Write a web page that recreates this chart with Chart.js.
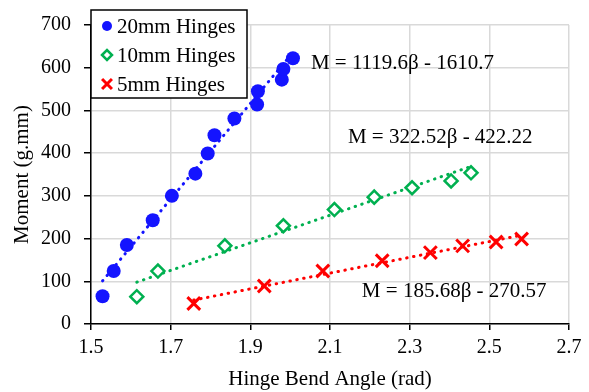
<!DOCTYPE html>
<html>
<head>
<meta charset="utf-8">
<script src="https://cdn.jsdelivr.net/npm/chart.js@4.4.1/dist/chart.umd.min.js"></script>
<style>
  body { margin: 0; background: #fff; }
  canvas { display: block; }
</style>
</head>
<body>
<canvas id="chart" width="589" height="392"></canvas>
<script>
// values
const seriesNames = ['20mm Hinges', '10mm Hinges', '5mm Hinges'];

const angle20 = [1.529, 1.557, 1.590, 1.655, 1.703, 1.762, 1.793, 1.810, 1.860, 1.917, 1.919, 1.979, 1.983, 2.007];
const moment20 = [65, 124, 185, 243, 300, 352, 399, 442, 481, 514, 545, 572, 597, 622];

const angle10 = [1.615, 1.668, 1.836, 1.983, 2.111, 2.211, 2.306, 2.404, 2.454];
const moment10 = [64, 124, 183, 230, 268, 297, 319, 335, 354];

const angle5 = [1.758, 1.935, 2.082, 2.231, 2.352, 2.433, 2.517, 2.581];
const moment5 = [48, 89, 124, 148, 167, 183, 192, 199];

// trendline end points (as drawn)
const trend20X = [1.529, 2.007];
const trend20Y = [101, 636];
const trend10X = [1.615, 2.454];
const trend10Y = [98, 369];
const trend5X = [1.758, 2.581];
const trend5Y = [56, 208];

const equations = ['M = 1119.6\u03b2 - 1610.7', 'M = 322.52\u03b2 - 422.22', 'M = 185.68\u03b2 - 270.57'];
const equationAnchorX = [2.052, 2.145, 2.18];
const equationAnchorY = [609, 436, 75];

const xTicks = { min: 1.5, max: 2.7, step: 0.2 };
const yTicks = { min: 0, max: 700, step: 100 };

const BLUE = '#1414ff';
const GREEN = '#00b050';
const RED = '#ff0000';
const FONT = '"Liberation Serif", "Times New Roman", serif';

function toPoints(xs, ys) {
  return xs.map((x, i) => ({ x: x, y: ys[i] }));
}

function trendDataset(xs, ys, color) {
  return {
    label: 'trend',
    data: toPoints(xs, ys),
    showLine: true,
    borderColor: color,
    borderWidth: 3,
    borderDash: [0.5, 6.5],
    borderCapStyle: 'round',
    pointRadius: 0,
    pointHoverRadius: 0,
    fill: false,
    order: 2
  };
}

// equations and the boxed legend inside the plot
const overlayPlugin = {
  id: 'overlay',
  afterDatasetsDraw(chart) {
    const ctx = chart.ctx;
    const xs = chart.scales.x;
    const ys = chart.scales.y;
    ctx.save();
    ctx.font = '21px ' + FONT;
    ctx.fillStyle = '#000';
    ctx.textBaseline = 'middle';
    ctx.textAlign = 'left';
    equations.forEach((txt, i) => {
      ctx.fillText(txt, xs.getPixelForValue(equationAnchorX[i]), ys.getPixelForValue(equationAnchorY[i]));
    });

    // legend box
    const left = chart.chartArea.left;
    const top = 10;
    const w = 156;
    const h = 88;
    ctx.fillStyle = '#fff';
    ctx.fillRect(left, top, w, h);
    ctx.strokeStyle = '#000';
    ctx.lineWidth = 1.5;
    ctx.strokeRect(left, top, w, h);

    const legendRadius = [5, 5, 7];
    chart.data.datasets.slice(0, 3).forEach((ds, i) => {
      const cy = top + 16 + i * 29;
      const cx = left + 16;
      ctx.fillStyle = ds.pointBackgroundColor;
      ctx.strokeStyle = ds.pointBorderColor;
      ctx.lineWidth = ds.pointBorderWidth;
      Chart.helpers.drawPoint(ctx, {
        pointStyle: ds.pointStyle,
        radius: legendRadius[i],
        borderWidth: ds.pointBorderWidth,
        rotation: 0
      }, cx, cy);
      ctx.fillStyle = '#000';
      ctx.fillText(seriesNames[i], left + 26, cy + 1);
    });
    ctx.restore();
  }
};

const ctx = document.getElementById('chart');

new Chart(ctx, {
  type: 'scatter',
  data: {
    datasets: [
      {
        label: seriesNames[0],
        data: toPoints(angle20, moment20),
        pointStyle: 'circle',
        pointRadius: 7,
        pointBackgroundColor: BLUE,
        pointBorderColor: BLUE,
        pointBorderWidth: 0,
        order: 1
      },
      {
        label: seriesNames[1],
        data: toPoints(angle10, moment10),
        pointStyle: 'rectRot',
        pointRadius: 6.5,
        pointBackgroundColor: '#fff',
        pointBorderColor: GREEN,
        pointBorderWidth: 2.5,
        order: 1
      },
      {
        label: seriesNames[2],
        data: toPoints(angle5, moment5),
        pointStyle: 'crossRot',
        pointRadius: 9,
        pointBackgroundColor: RED,
        pointBorderColor: RED,
        pointBorderWidth: 3,
        order: 1
      },
      trendDataset(trend20X, trend20Y, BLUE),
      trendDataset(trend10X, trend10Y, GREEN),
      trendDataset(trend5X, trend5Y, RED)
    ]
  },
  options: {
    responsive: false,
    animation: false,
    layout: {
      padding: { left: 0, top: 24, right: 20, bottom: 0 }
    },
    plugins: {
      legend: { display: false },
      tooltip: { enabled: false }
    },
    scales: {
      x: {
        type: 'linear',
        min: xTicks.min,
        max: xTicks.max,
        afterFit: function(scale) { scale.height = 68; },
        grid: {
          color: '#d9d9d9',
          lineWidth: 1.5,
          tickColor: '#000',
          tickLength: 6
        },
        border: { color: '#000', width: 1.5 },
        ticks: {
          stepSize: xTicks.step,
          padding: 6,
          color: '#000',
          font: { family: FONT, size: 20 },
          callback: function(value) { return value.toFixed(1); }
        },
        title: {
          display: true,
          text: 'Hinge Bend Angle (rad)',
          color: '#000',
          font: { family: FONT, size: 21 },
          padding: { top: 4, bottom: 0 }
        }
      },
      y: {
        type: 'linear',
        min: yTicks.min,
        max: yTicks.max,
        afterFit: function(scale) { scale.width = 91; },
        grid: {
          color: '#d9d9d9',
          lineWidth: 1.5,
          tickColor: '#000',
          tickLength: 7
        },
        border: { color: '#000', width: 1.5 },
        ticks: {
          stepSize: yTicks.step,
          padding: 13,
          color: '#000',
          font: { family: FONT, size: 20 }
        },
        title: {
          display: true,
          text: 'Moment (g.mm)',
          color: '#000',
          font: { family: FONT, size: 21 },
          padding: { top: 10, bottom: 4 }
        }
      }
    }
  },
  plugins: [overlayPlugin]
});
</script>
</body>
</html>
